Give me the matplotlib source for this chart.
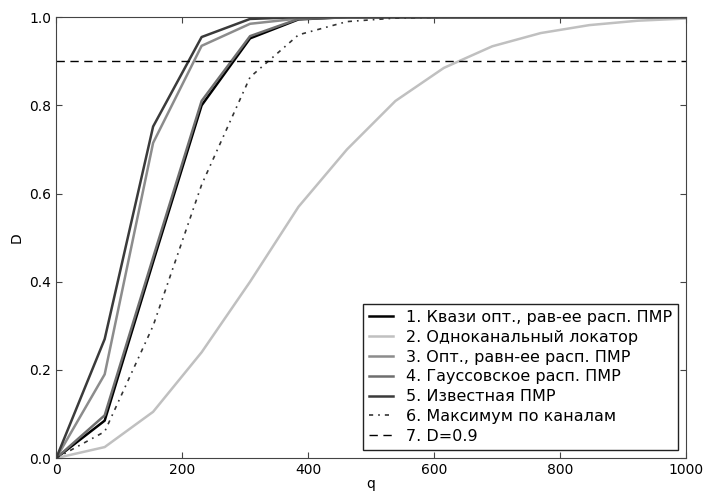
import numpy as np
import matplotlib
matplotlib.use('Agg')
import matplotlib.pyplot as plt

# q: 14 точек от 0 до 1000
q = [0, 76.9, 153.8, 230.8, 307.7, 384.6, 461.5, 538.5, 615.4, 692.3, 769.2, 846.2, 923.1, 1000]

d_quasi = [0.0, 0.085, 0.445, 0.80, 0.952, 0.995, 1.0, 1.0, 1.0, 1.0, 1.0, 1.0, 1.0, 1.0]
d_single = [0.0, 0.025, 0.105, 0.24, 0.40, 0.57, 0.70, 0.81, 0.885, 0.934, 0.964, 0.982, 0.992, 0.997]
d_opt = [0.0, 0.19, 0.715, 0.935, 0.985, 0.997, 1.0, 1.0, 1.0, 1.0, 1.0, 1.0, 1.0, 1.0]
d_gauss = [0.0, 0.097, 0.455, 0.81, 0.957, 0.996, 1.0, 1.0, 1.0, 1.0, 1.0, 1.0, 1.0, 1.0]
d_known = [0.0, 0.27, 0.752, 0.955, 0.996, 1.0, 1.0, 1.0, 1.0, 1.0, 1.0, 1.0, 1.0, 1.0]
d_max = [0.0, 0.06, 0.30, 0.62, 0.864, 0.96, 0.99, 0.998, 1.0, 1.0, 1.0, 1.0, 1.0, 1.0]
d_level = 0.9

labels = ['1. Квази опт., рав-ее расп. ПМР',
          '2. Одноканальный локатор',
          '3. Опт., равн-ее расп. ПМР',
          '4. Гауссовское расп. ПМР',
          '5. Известная ПМР',
          '6. Максимум по каналам',
          '7. D=0.9']

plt.rcParams['font.family'] = ['DejaVu Sans']
plt.rcParams['xtick.direction'] = 'in'
plt.rcParams['ytick.direction'] = 'in'
plt.rcParams['xtick.top'] = True
plt.rcParams['ytick.right'] = True

fig = plt.figure(figsize=(7.03, 4.91), dpi=100)
ax = fig.add_axes([0.080, 0.067, 0.896, 0.898])

ax.plot(q, d_quasi, color='#000000', lw=1.8, label=labels[0])
ax.plot(q, d_single, color='#c0c0c0', lw=1.8, label=labels[1])
ax.plot(q, d_opt, color='#8c8c8c', lw=1.8, label=labels[2])
ax.plot(q, d_gauss, color='#6e6e6e', lw=1.8, label=labels[3])
ax.plot(q, d_known, color='#3a3a3a', lw=1.8, label=labels[4])
ax.plot(q, d_max, color='#333333', lw=1.2, ls=(0, (2.5, 3, 1, 3)), label=labels[5])
ax.axhline(d_level, color='#000000', lw=1, ls=(0, (6, 4)), label=labels[6])

ax.set_xlim(0, 1000)
ax.set_ylim(0, 1.0)
ax.set_xticks([0, 200, 400, 600, 800, 1000])
ax.set_yticks([0.0, 0.2, 0.4, 0.6, 0.8, 1.0])
ax.set_yticklabels(['0.0', '0.2', '0.4', '0.6', '0.8', '1.0'])
ax.tick_params(labelsize=10, length=4, color='#444444')
for s in ax.spines.values():
    s.set_color('#444444')
ax.set_xlabel('q', fontsize=10, labelpad=0)
ax.set_ylabel('D', fontsize=10)

leg = ax.legend(loc='lower right', fontsize=11.5, fancybox=False, framealpha=1,
                edgecolor='#222222', handlelength=1.5, borderaxespad=0.5,
                labelspacing=0.3)

fig.savefig('out.png', dpi=100)
